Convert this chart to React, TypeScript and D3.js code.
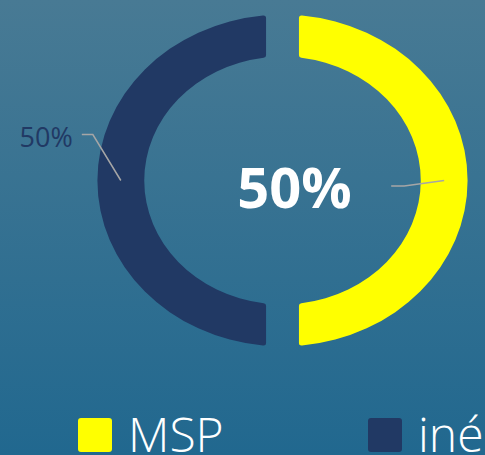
import React from 'react';
import * as d3 from 'd3';

const categories: string[] = ['MSP', 'iné'];
const values: number[] = [50, 50];
const sliceColors: string[] = ['#ffff00', '#213964'];
const centerLabel = '50%';
const sideLabel = '50%';

export default function App() {
  const W = 485, H = 455;
  const cx = 282.5, cy = 180.5, R = 166, r = 124, sx = 1.115;

  const pie = d3.pie<number>().sort(null).startAngle(0).endAngle(2 * Math.PI).padAngle(0.178);
  const arcs = pie(values);
  const arc = d3.arc<d3.PieArcDatum<number>>().innerRadius(r).outerRadius(R).padRadius(R).cornerRadius(2.5);

  const toScreen = (p: [number, number]): [number, number] => [cx + p[0] * sx, cy + p[1]];
  const cRight = toScreen(arc.centroid(arcs[0]) as [number, number]);
  const cLeft = toScreen(arc.centroid(arcs[1]) as [number, number]);

  const line = d3.line();
  const leftLeader = line([cLeft, [cLeft[0] - 28, cLeft[1] - 46], [cLeft[0] - 39, cLeft[1] - 46]]);
  const rightLeader = line([cRight, [cRight[0] - 40, cRight[1] + 5.5], [cRight[0] - 53, cRight[1] + 5.5]]);

  const legendX = d3.scaleLinear().domain([0, 1]).range([78, 368]);

  return (
    <svg width={W} height={H} style={{ position: 'fixed', left: 0, top: 0 }}
      fontFamily="'Open Sans', 'Noto Sans', sans-serif">
      <defs>
        <linearGradient id="bg" x1="0" y1="0" x2="0" y2="1">
          <stop offset="0" stopColor="#487a94" />
          <stop offset="1" stopColor="#21688f" />
        </linearGradient>
      </defs>
      <rect x={0} y={0} width={W} height={H} fill="url(#bg)" />
      <g transform={`translate(${cx},${cy}) scale(${sx},1)`}>
        {arcs.map((a, i) => (
          <path key={categories[i]} d={arc(a) || ''} fill={sliceColors[i]} />
        ))}
      </g>
      <path d={leftLeader || ''} fill="none" stroke="#a6a6a6" strokeWidth={1.5} />
      <path d={rightLeader || ''} fill="none" stroke="#a6a6a6" strokeWidth={1.5} />
      <text x={cLeft[0] - 48} y={cLeft[1] - 34} textAnchor="end" fontSize={27} fill="#213964">{sideLabel}</text>
      <text x={cx + 12} y={cy + 27} textAnchor="middle" fontSize={56} fontWeight={700} fill="#ffffff">{centerLabel}</text>
      {categories.map((c, i) => (
        <g key={c}>
          <rect x={legendX(i)} y={418} width={34} height={34} rx={3} fill={sliceColors[i]} />
          <text x={legendX(i) + 50} y={452} fontSize={48} fontWeight={300} fill="#ffffff">{c}</text>
        </g>
      ))}
    </svg>
  );
}
